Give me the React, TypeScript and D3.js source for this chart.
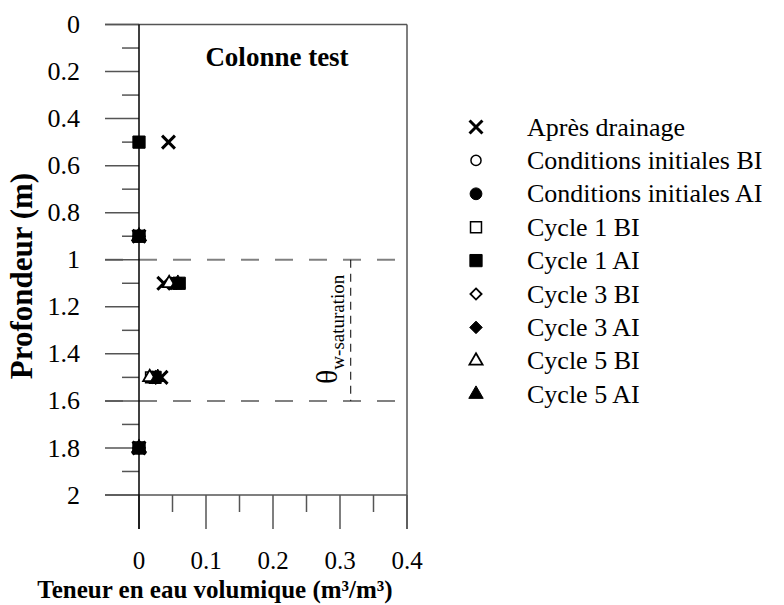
import React from "react";
import * as d3 from "d3";

const depths = [0.5, 0.9, 1.1, 1.5, 1.8];
const apresDrainage = [0.044, 0, 0.037, 0.033, 0];
const condInitBI = [null, 0, 0.05, 0.02, 0];
const condInitAI = [null, 0, 0.052, 0.022, 0];
const cycle1BI = [null, 0, 0.055, 0.018, 0];
const cycle1AI = [0, 0, 0.06, 0.024, 0];
const cycle3BI = [null, 0, 0.048, 0.02, 0];
const cycle3AI = [null, 0, 0.056, 0.026, 0];
const cycle5BI = [null, 0, 0.045, 0.016, 0];
const cycle5AI = [null, 0, 0.058, 0.028, 0];

const seriesNames = [
  "Après drainage",
  "Conditions initiales BI",
  "Conditions initiales AI",
  "Cycle 1 BI",
  "Cycle 1 AI",
  "Cycle 3 BI",
  "Cycle 3 AI",
  "Cycle 5 BI",
  "Cycle 5 AI",
];
const seriesValues = [apresDrainage, condInitBI, condInitAI, cycle1BI, cycle1AI, cycle3BI, cycle3AI, cycle5BI, cycle5AI];

const yMajor = [0, 0.2, 0.4, 0.6, 0.8, 1, 1.2, 1.4, 1.6, 1.8, 2];
const yMinor = [0.1, 0.3, 0.5, 0.7, 0.9, 1.1, 1.3, 1.5, 1.7, 1.9];
const xMajor = [0, 0.1, 0.2, 0.3, 0.4];
const xMinor = [0.05, 0.15, 0.25, 0.35];
const zoneTop = 1.0;
const zoneBottom = 1.6;
const thetaSat = 0.316;

const FONT = "'Liberation Serif', 'Times New Roman', serif";

type Sty = { type: any; size: number; fill: string; stroke: string; sw: number };
const styles: Sty[] = [
  { type: d3.symbolTimes, size: 110, fill: "none", stroke: "#000", sw: 3 },
  { type: d3.symbolCircle, size: 80, fill: "#fff", stroke: "#000", sw: 1.5 },
  { type: d3.symbolCircle, size: 110, fill: "#000", stroke: "#000", sw: 1 },
  { type: d3.symbolSquare, size: 120, fill: "#fff", stroke: "#000", sw: 1.5 },
  { type: d3.symbolSquare, size: 150, fill: "#000", stroke: "#000", sw: 1 },
  { type: d3.symbolDiamond2, size: 80, fill: "#fff", stroke: "#000", sw: 1.8 },
  { type: d3.symbolDiamond2, size: 100, fill: "#000", stroke: "#000", sw: 1 },
  { type: d3.symbolTriangle, size: 75, fill: "#fff", stroke: "#000", sw: 1.8 },
  { type: d3.symbolTriangle, size: 90, fill: "#000", stroke: "#000", sw: 1 },
];

export default function App() {
  const x = d3.scaleLinear().domain([0, 0.4]).range([139, 407]);
  const y = d3.scaleLinear().domain([0, 2]).range([24.5, 495]);
  const x0 = x(0), x1 = x(0.4), y0 = y(0), y1 = y(2);
  const tickGray = "#555";
  const sym = (s: Sty) => d3.symbol().type(s.type).size(s.size)() as string;

  return (
    <svg width={784} height={605} style={{ position: "absolute", left: 0, top: 0, background: "#fff" }}>
      <rect x={0} y={0} width={784} height={605} fill="#fff" />
      {/* dashed zone lines */}
      {[zoneTop, zoneBottom].map((d, i) => (
        <line key={"z" + i} x1={105} x2={x1} y1={y(d)} y2={y(d)} stroke="#808080" strokeWidth={2} strokeDasharray="18,16" />
      ))}
      <line x1={x(thetaSat)} x2={x(thetaSat)} y1={y(zoneTop)} y2={y(zoneBottom)} stroke="#000" strokeWidth={1} strokeDasharray="8,6" />
      <text transform={`translate(${337},${384}) rotate(-90)`} fontFamily={FONT} fill="#000">
        <tspan fontSize={30}>θ</tspan>
        <tspan fontSize={19} dy={7}>w-saturation</tspan>
      </text>
      {/* frame */}
      <line x1={105} x2={x1} y1={y0} y2={y0} stroke={tickGray} strokeWidth={1.5} />
      <line x1={105} x2={x1} y1={y1} y2={y1} stroke={tickGray} strokeWidth={1.5} />
      <line x1={x1} x2={x1} y1={y0} y2={529} stroke={tickGray} strokeWidth={1.5} />
      {/* y ticks */}
      {yMajor.map((d) => (
        <g key={"ym" + d}>
          <line x1={105} x2={x0} y1={y(d)} y2={y(d)} stroke={tickGray} strokeWidth={1.5} />
          <text x={80} y={y(d)} dy="0.33em" textAnchor="end" fontFamily={FONT} fontSize={26}>
            {d3.format("~g")(d)}
          </text>
        </g>
      ))}
      {yMinor.map((d) => (
        <line key={"yn" + d} x1={122} x2={x0} y1={y(d)} y2={y(d)} stroke={tickGray} strokeWidth={1.5} />
      ))}
      {/* x ticks */}
      {xMajor.map((d) => (
        <g key={"xm" + d}>
          <line x1={x(d)} x2={x(d)} y1={y1} y2={529} stroke={tickGray} strokeWidth={1.5} />
          <text x={x(d)} y={569} textAnchor="middle" fontFamily={FONT} fontSize={25}>
            {d3.format("~g")(d)}
          </text>
        </g>
      ))}
      {xMinor.map((d) => (
        <line key={"xn" + d} x1={x(d)} x2={x(d)} y1={y1} y2={512} stroke={tickGray} strokeWidth={1.5} />
      ))}
      <line x1={x0} x2={x0} y1={y0} y2={529} stroke="#000" strokeWidth={1.5} />
      {/* titles */}
      <text x={277} y={66} textAnchor="middle" fontFamily={FONT} fontWeight="bold" fontSize={27}>Colonne test</text>
      <text transform={`translate(32,${276}) rotate(-90)`} textAnchor="middle" fontFamily={FONT} fontWeight="bold" fontSize={31}>
        Profondeur (m)
      </text>
      <text x={215} y={598} textAnchor="middle" fontFamily={FONT} fontWeight="bold" fontSize={25}>
        Teneur en eau volumique (m³/m³)
      </text>
      {/* data */}
      {seriesValues.map((vals, si) => (
        <g key={"s" + si}>
          {vals.map((v, i) =>
            v === null ? null : (
              <path key={i} d={sym(styles[si])} transform={`translate(${x(v)},${y(depths[i])})`} fill={styles[si].fill} stroke={styles[si].stroke} strokeWidth={styles[si].sw} />
            )
          )}
        </g>
      ))}
      {/* legend */}
      {seriesNames.map((n, i) => (
        <g key={"l" + i} transform={`translate(0,${127 + i * 33.4})`}>
          <path d={sym(styles[i])} transform="translate(476,0)" fill={styles[i].fill} stroke={styles[i].stroke} strokeWidth={styles[i].sw} />
          <text x={527} y={0} dy="0.33em" fontFamily={FONT} fontSize={26}>{n}</text>
        </g>
      ))}
    </svg>
  );
}
